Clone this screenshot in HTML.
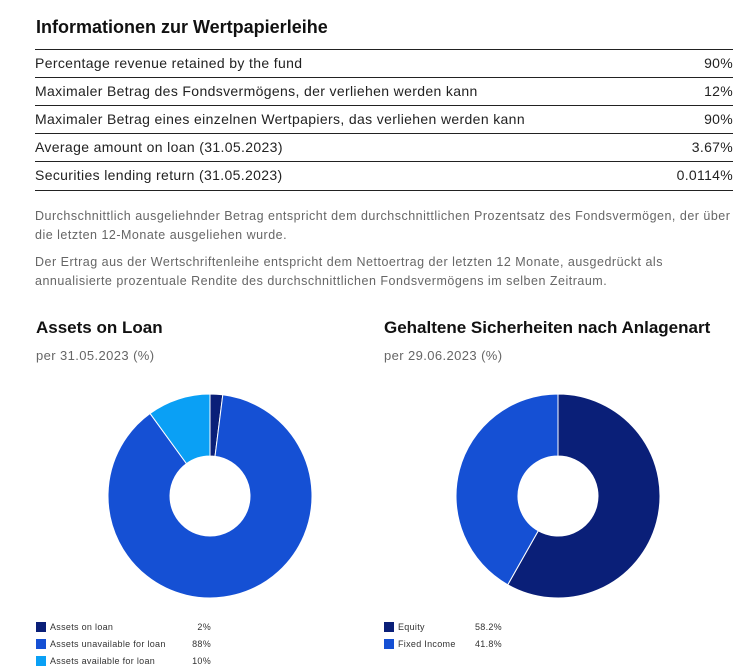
<!DOCTYPE html>
<html><head><meta charset="utf-8"><style>
body{margin:0;width:747px;height:667px;background:#fff;font-family:"Liberation Sans",sans-serif;position:relative;overflow:hidden;color:#222}
h1{position:absolute;left:36px;top:17px;margin:0;font-size:18px;font-weight:bold;color:#111}
.row{position:absolute;left:35px;width:698px;height:28px;border-top:1px solid #222;font-size:14px;letter-spacing:0.35px;line-height:26px}
.row span{position:absolute;right:0;letter-spacing:0.3px}
.p{position:absolute;left:35px;width:712px;font-size:12.5px;letter-spacing:0.5px;color:#666;line-height:18.5px;white-space:nowrap}
h2{position:absolute;margin:0;font-size:17px;font-weight:bold;color:#111}
.sub{position:absolute;font-size:13px;color:#666;letter-spacing:0.4px}
.lg{position:absolute;font-size:9px;letter-spacing:0.3px;color:#333;height:12px;line-height:10px;white-space:nowrap}
.lg span{white-space:nowrap}
.sw{position:absolute;width:10px;height:10px;left:0;top:0}
</style></head><body>
<h1>Informationen zur Wertpapierleihe</h1>
<div class="row" style="top:49px">Percentage revenue retained by the fund<span>90%</span></div>
<div class="row" style="top:77px">Maximaler Betrag des Fondsvermögens, der verliehen werden kann<span>12%</span></div>
<div class="row" style="top:105px">Maximaler Betrag eines einzelnen Wertpapiers, das verliehen werden kann<span>90%</span></div>
<div class="row" style="top:133px">Average amount on loan (31.05.2023)<span>3.67%</span></div>
<div class="row" style="top:161px;border-bottom:1px solid #222">Securities lending return (31.05.2023)<span>0.0114%</span></div>
<div class="p" style="top:207px">Durchschnittlich ausgeliehnder Betrag entspricht dem durchschnittlichen Prozentsatz des Fondsvermögen, der über<br>die letzten 12-Monate ausgeliehen wurde.</div>
<div class="p" style="top:253px">Der Ertrag aus der Wertschriftenleihe entspricht dem Nettoertrag der letzten 12 Monate, ausgedrückt als<br>annualisierte prozentuale Rendite des durchschnittlichen Fondsvermögens im selben Zeitraum.</div>
<h2 style="left:36px;top:318px">Assets on Loan</h2>
<div class="sub" style="left:36px;top:348px">per 31.05.2023 (%)</div>
<h2 style="left:384px;top:318px">Gehaltene Sicherheiten nach Anlagenart</h2>
<div class="sub" style="left:384px;top:348px">per 29.06.2023 (%)</div>
<svg id="svg" width="747" height="667" style="position:absolute;left:0;top:0"></svg>
<div id="leg"></div>
<script>
const loanLabels=["Assets on loan","Assets unavailable for loan","Assets available for loan"];
const loanValues=[2,88,10];
const loanText=["2%","88%","10%"];
const collLabels=["Equity","Fixed Income"];
const collValues=[58.2,41.8];
const collText=["58.2%","41.8%"];
const colors=["#0a1f78","#1550d4","#0aa0f5"];
const svg=document.getElementById('svg'),NS="http://www.w3.org/2000/svg";
function donut(cx,cy,R,r,vals,name){
  const tot=vals.reduce((a,b)=>a+b,0);let a0=0;
  vals.forEach((v,i)=>{
    const a1=a0+v/tot*2*Math.PI;
    const p=(a,rr)=>[cx+rr*Math.sin(a),cy-rr*Math.cos(a)];
    const [x0,y0]=p(a0,R),[x1,y1]=p(a1,R),[x2,y2]=p(a1,r),[x3,y3]=p(a0,r);
    const lg=(a1-a0)>Math.PI?1:0;
    const el=document.createElementNS(NS,'path');
    el.setAttribute('d',`M${x0},${y0}A${R},${R} 0 ${lg} 1 ${x1},${y1}L${x2},${y2}A${r},${r} 0 ${lg} 0 ${x3},${y3}Z`);
    el.setAttribute('fill',colors[i]);el.setAttribute('stroke','#fff');el.setAttribute('stroke-width','1');
    
    
    svg.appendChild(el);a0=a1;
  });
}
donut(210,496,102,40,loanValues,'assets-on-loan');
donut(558,496,102,40,collValues,'collateral');
const leg=document.getElementById('leg');
function legend(x,labels,texts,vx,name){
  labels.forEach((l,i)=>{
    const d=document.createElement('div');d.className='lg';
    d.style.left=x+'px';d.style.top=(622+i*17)+'px';d.style.width=vx+'px';
    d.innerHTML=`<div class="sw" style="background:${colors[i]}"></div><span style="position:absolute;left:14px">${l}</span><span style="position:absolute;right:0">${texts[i]}</span>`;
    
    
    leg.appendChild(d);
  });
}
legend(36,loanLabels,loanText,175,'loan');
legend(384,collLabels,collText,118,'collateral');
</script>
</body></html>
